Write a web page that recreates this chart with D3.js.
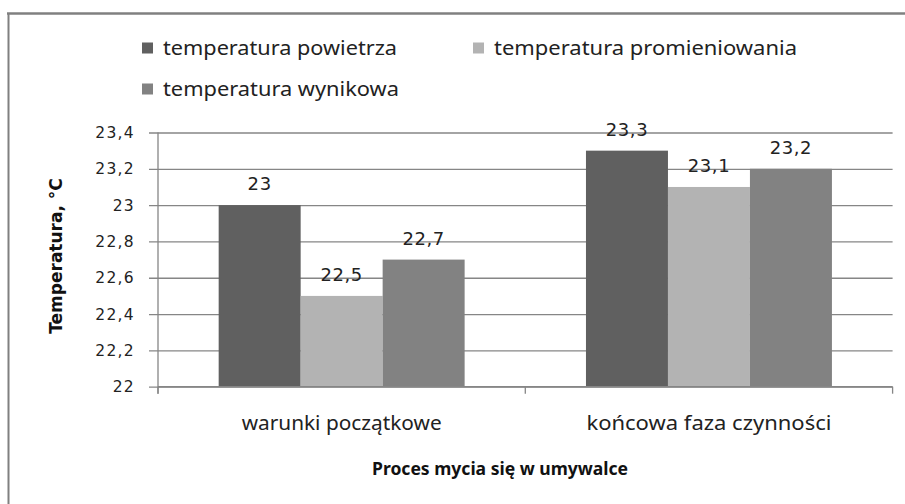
<!DOCTYPE html>
<html>
<head>
<meta charset="utf-8">
<script src="https://cdn.jsdelivr.net/npm/d3@7"></script>
<style>
  body { margin: 0; background: #fff; }
  svg { display: block; }
</style>
</head>
<body>
<div id="chart"></div>
<script>
// Grouped bar chart: temperature during washing at a washbasin

var categories = ['warunki początkowe', 'końcowa faza czynności'];
var seriesNames = ['temperatura powietrza', 'temperatura promieniowania', 'temperatura wynikowa'];
var airTemp = [23, 23.3];
var radiantTemp = [22.5, 23.1];
var resultTemp = [22.7, 23.2];
var yTicks = [22, 22.2, 22.4, 22.6, 22.8, 23, 23.2, 23.4];
var yTitle = 'Temperatura, °C';
var xTitle = 'Proces mycia się w umywalce';

var seriesValues = [airTemp, radiantTemp, resultTemp];
var seriesColors = ['#606060', '#b3b3b3', '#828282'];

var width = 905, height = 504;
var plot = { left: 158, right: 892.6, top: 132.5, bottom: 386.7 };
var gridColor = '#868686';
var labelFont = '"Noto Sans", "Open Sans", sans-serif';

function fmt(v) { return String(+v.toFixed(1)).replace('.', ','); }

var svg = d3.select('#chart').append('svg')
    .attr('width', width)
    .attr('height', height);

// outer chart border (only top and left visible in the crop)
svg.append('line').attr('x1', 7).attr('x2', width).attr('y1', 13.5).attr('y2', 13.5)
    .attr('stroke', '#808080').attr('stroke-width', 2.5);
svg.append('line').attr('x1', 8.5).attr('x2', 8.5).attr('y1', 13).attr('y2', height)
    .attr('stroke', '#808080').attr('stroke-width', 2);

// --- Scales ---
var y = d3.scaleLinear().domain([22, 23.4]).range([plot.bottom, plot.top]);
var x0 = d3.scaleBand().domain(categories).range([plot.left, plot.right]).padding(0);
var x1 = d3.scaleBand().domain(d3.range(seriesNames.length))
    .range([0, x0.bandwidth()]).paddingInner(0).paddingOuter(0.74);

// --- Gridlines + y axis ---
var yAxis = d3.axisLeft(y).tickValues(yTicks).tickSize(plot.right - plot.left + 9)
    .tickFormat(fmt).tickPadding(14);
var gy = svg.append('g')
    .attr('transform', 'translate(' + plot.right + ',0)')
    .call(yAxis);
gy.select('.domain').remove();
gy.selectAll('.tick line').attr('stroke', gridColor).attr('stroke-width', 1.3);
gy.selectAll('.tick text')
    .attr('font-family', 'DejaVu Sans, Verdana, sans-serif')
    .attr('font-size', 15.5)
    .attr('letter-spacing', 1.3)
    .attr('fill', '#222');

// vertical axis line
svg.append('line')
    .attr('x1', plot.left).attr('x2', plot.left)
    .attr('y1', y(23.4)).attr('y2', plot.bottom + 7)
    .attr('stroke', gridColor).attr('stroke-width', 1.3);

// --- Bars ---
var groups = svg.append('g').selectAll('g')
    .data(categories)
    .join('g')
    .attr('transform', function (d) { return 'translate(' + x0(d) + ',0)'; });

groups.selectAll('rect')
    .data(function (d, ci) {
        return seriesValues.map(function (vals, si) { return { si: si, v: vals[ci] }; });
    })
    .join('rect')
    .attr('x', function (d) { return x1(d.si); })
    .attr('y', function (d) { return y(d.v); })
    .attr('width', x1.bandwidth())
    .attr('height', function (d) { return y(22) - y(d.v); })
    .attr('fill', function (d) { return seriesColors[d.si]; });

// data labels
groups.selectAll('text.val')
    .data(function (d, ci) {
        return seriesValues.map(function (vals, si) { return { si: si, v: vals[ci] }; });
    })
    .join('text')
    .attr('class', 'val')
    .attr('x', function (d) { return x1(d.si) + x1.bandwidth() / 2; })
    .attr('y', function (d) { return y(d.v) - 15; })
    .attr('text-anchor', 'middle')
    .attr('font-family', 'DejaVu Sans, Verdana, sans-serif')
    .attr('font-size', 18)
    .attr('letter-spacing', 0.6)
    .attr('fill', '#222')
    .text(function (d) { return fmt(d.v); });

// --- X axis ---
svg.append('line')
    .attr('x1', plot.left).attr('x2', plot.right)
    .attr('y1', plot.bottom).attr('y2', plot.bottom)
    .attr('stroke', gridColor).attr('stroke-width', 1.5);
var xBounds = categories.map(function (c) { return x0(c); }).concat([plot.right]);
svg.append('g').selectAll('line')
    .data(xBounds)
    .join('line')
    .attr('x1', function (d) { return d; }).attr('x2', function (d) { return d; })
    .attr('y1', plot.bottom).attr('y2', plot.bottom + 7)
    .attr('stroke', gridColor).attr('stroke-width', 1.3);

var catWidths = [200, 245];
svg.append('g').selectAll('text')
    .data(categories)
    .join('text')
    .attr('x', function (d, i) { return x0(d) + x0.bandwidth() / 2 - catWidths[i] / 2; })
    .attr('y', 430)
    .attr('textLength', function (d, i) { return catWidths[i]; })
    .attr('lengthAdjust', 'spacingAndGlyphs')
    .attr('font-family', labelFont)
    .attr('font-size', 19)
    .attr('fill', '#222')
    .text(function (d) { return d; });

// axis titles
svg.append('text')
    .attr('x', 372).attr('y', 475)
    .attr('textLength', 256)
    .attr('lengthAdjust', 'spacingAndGlyphs')
    .attr('font-family', labelFont)
    .attr('font-weight', 'bold')
    .attr('font-size', 18)
    .attr('fill', '#111')
    .text(xTitle);

svg.append('text')
    .attr('transform', 'translate(62,256) rotate(-90)')
    .attr('text-anchor', 'middle')
    .attr('font-family', 'DejaVu Sans, Verdana, sans-serif')
    .attr('font-weight', 'bold')
    .attr('font-size', 17)
    .attr('fill', '#111')
    .text(yTitle);

// --- Legend ---
var legendPos = [[142, 48, 234], [473, 48, 303], [142, 89, 236]];
var legend = svg.append('g').selectAll('g')
    .data(seriesNames)
    .join('g')
    .attr('transform', function (d, i) { return 'translate(' + legendPos[i][0] + ',' + legendPos[i][1] + ')'; });
legend.append('rect')
    .attr('x', 0).attr('y', -5.5)
    .attr('width', 11).attr('height', 11)
    .attr('fill', function (d, i) { return seriesColors[i]; });
legend.append('text')
    .attr('x', 21).attr('y', 6.5)
    .attr('textLength', function (d, i) { return legendPos[i][2]; })
    .attr('lengthAdjust', 'spacingAndGlyphs')
    .attr('font-family', labelFont)
    .attr('font-size', 19)
    .attr('fill', '#222')
    .text(function (d) { return d; });
</script>
</body>
</html>
